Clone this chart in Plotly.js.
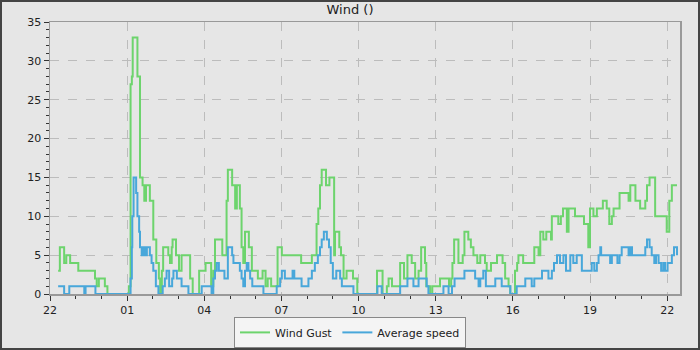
<!DOCTYPE html>
<html>
<head>
<meta charset="utf-8">
<script src="https://cdn.plot.ly/plotly-3.0.1.min.js"></script>
<style>
  html, body { margin: 0; padding: 0; background: #e6e6e6; }
  #wrap { position: relative; width: 700px; height: 350px; }
  #chart { width: 700px; height: 350px; }
  #frame { position: absolute; left: 0; top: 0; width: 700px; height: 350px; box-sizing: border-box; border: 2px solid #444; pointer-events: none; }
</style>
</head>
<body>
<div id="wrap"><div id="chart"></div><div id="frame"></div></div>
<script>
// Start of the period shown (22:00); offsets below are minutes after it.
const startTime = Date.UTC(2024, 0, 1, 22, 0, 0);

// Wind Gust: change points (minutes after start) and values
const gustMin = [19,23,33,38,47,66,105,109,114,128,134,184,188,191,193,204,210,216,220,224,233,241,248,254,257,261,264,276,280,284,286,294,301,307,327,333,348,363,376,381,385,402,412,415,425,432,436,443,447,451,455,464,471,485,496,503,508,516,531,541,586,611,622,626,630,634,644,652,663,665,675,679,685,692,707,717,763,776,786,790,798,817,826,834,844,852,860,866,875,878,887,892,910,931,936,939,943,953,963,967,976,982,988,997,1004,1015,1019,1029,1043,1056,1062,1070,1074,1085,1090,1093,1104,1130,1140,1144,1151,1158,1169,1171,1186,1192,1197,1206,1210,1225,1246,1256,1260,1268,1276,1290,1299,1305,1311,1315,1329,1350,1354,1366,1377,1389,1393,1399,1412,1439,1445,1451,1463];
const gustVal = [3,6,4,5,4,3,2,1,2,1,0,1,27,28,33,28,15,14,12,14,12,7,4,2,0,3,6,5,4,6,7,5,3,5,2,0,3,4,1,3,7,5,12,16,14,11,14,11,6,4,8,6,3,2,3,1,2,1,6,5,4,5,9,11,14,16,14,15,5,8,6,5,2,3,2,0,3,0,1,2,1,4,2,5,4,2,3,6,4,1,0,1,2,1,2,4,7,4,5,8,7,6,5,4,5,4,3,4,5,4,2,1,0,3,4,5,4,6,5,8,7,8,7,10,9,10,11,8,11,10,9,6,11,10,11,12,11,9,10,11,13,12,14,12,11,12,14,15,10,8,12,14,14];

// Average speed: change points (minutes after start) and values
const avgMin = [19,33,45,80,83,106,188,191,192,195,201,204,208,210,214,218,222,226,233,237,241,247,253,263,268,272,278,285,288,296,307,323,354,377,381,385,389,394,407,415,425,428,443,447,451,455,459,463,467,472,498,529,537,541,548,566,570,587,603,611,618,625,630,634,639,646,651,655,660,668,677,681,708,764,774,817,834,848,860,879,883,918,930,938,944,967,992,1000,1004,1011,1017,1039,1054,1074,1089,1109,1124,1130,1148,1163,1171,1176,1183,1190,1198,1204,1214,1221,1229,1241,1264,1270,1276,1280,1284,1286,1307,1311,1324,1329,1334,1350,1354,1358,1389,1393,1399,1404,1410,1414,1420,1426,1431,1435,1441,1451,1456,1463];
const avgVal = [1,0,1,0,1,0,2,6,10,15,13,10,8,6,5,6,5,6,5,4,3,1,0,1,2,3,1,2,3,2,1,0,1,0,2,3,4,3,2,6,5,4,3,2,1,3,4,3,2,1,0,1,2,3,2,3,2,1,2,3,4,5,6,7,8,7,6,4,2,3,2,1,0,1,0,1,2,1,2,1,0,1,0,1,2,3,2,1,2,3,1,2,1,0,1,2,1,2,3,2,3,4,5,4,5,3,5,4,5,3,4,3,4,5,6,5,4,5,4,5,6,5,6,5,6,7,6,5,4,5,4,3,4,3,4,5,6,5];

const seriesNames = ["Wind Gust", "Average speed"];
const chartTitle = "Wind ()";

function toStamp(min) {
  const d = new Date(startTime + min * 60000);
  const p = n => String(n).padStart(2, "0");
  return d.getUTCFullYear() + "-" + p(d.getUTCMonth() + 1) + "-" + p(d.getUTCDate()) + " " +
         p(d.getUTCHours()) + ":" + p(d.getUTCMinutes()) + ":00";
}

const traces = [
  { x: gustMin.map(toStamp), y: gustVal, name: seriesNames[0], type: "scatter", mode: "lines",
    line: { shape: "hv", color: "#6dd46d", width: 2 } },
  { x: avgMin.map(toStamp), y: avgVal, name: seriesNames[1], type: "scatter", mode: "lines",
    line: { shape: "hv", color: "#48a7da", width: 2 } }
];

const layout = {
  width: 700, height: 350,
  paper_bgcolor: "#e6e6e6", plot_bgcolor: "#e6e6e6",
  margin: { l: 50, r: 20, t: 22, b: 56, autoexpand: false },
  font: { family: "DejaVu Sans, sans-serif", size: 11, color: "#222" },
  title: { text: chartTitle, x: 0.5, xanchor: "center", y: 0.972, yref: "container", yanchor: "middle",
           font: { family: "DejaVu Sans, sans-serif", size: 13, color: "#222" } },
  showlegend: true,
  legend: { orientation: "h", x: 0.5, xanchor: "center", xref: "container", y: 0.006, yref: "container", yanchor: "bottom",
            bgcolor: "#f4f4f4", bordercolor: "#888", borderwidth: 1, itemwidth: 30,
            font: { family: "DejaVu Sans, sans-serif", size: 11, color: "#222" } },
  xaxis: {
    type: "date", automargin: false,
    range: [toStamp(0), toStamp(1470)],
    tick0: toStamp(0), dtick: 3 * 3600000, tickformat: "%H",
    ticks: "outside", ticklen: 5, tickcolor: "#333",
    showline: true, linecolor: "#999", linewidth: 1.5, mirror: true,
    showgrid: true, gridcolor: "#bcbcbc", griddash: "dash", gridwidth: 1,
    zeroline: false,
    minor: { dtick: 3600000, tick0: toStamp(0), ticks: "outside", ticklen: 3, tickcolor: "#333", showgrid: false },
    tickfont: { size: 11, color: "#222" }
  },
  yaxis: {
    range: [0, 35], dtick: 5, tick0: 0, automargin: false,
    ticks: "outside", ticklen: 5, tickcolor: "#333",
    showline: true, linecolor: "#999", linewidth: 1.5, mirror: true,
    showgrid: true, gridcolor: "#bcbcbc", griddash: "dash", gridwidth: 1,
    zeroline: false,
    minor: { dtick: 1, ticks: "outside", ticklen: 3, tickcolor: "#333", showgrid: false },
    tickfont: { size: 11, color: "#222" }
  }
};

Plotly.newPlot("chart", traces, layout, { staticPlot: true, displayModeBar: false });
</script>
</body>
</html>
